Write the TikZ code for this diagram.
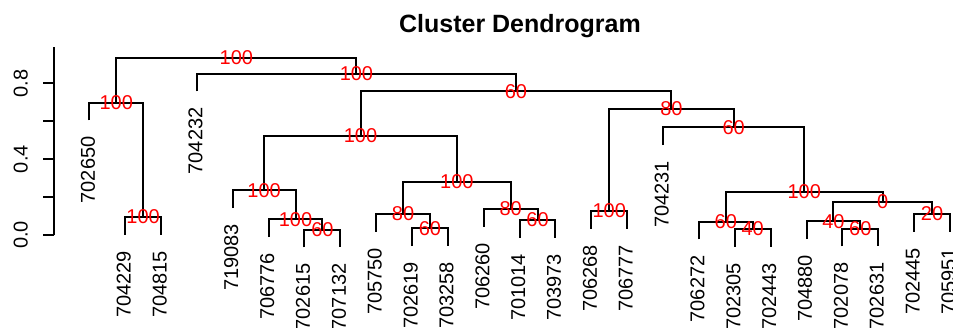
\documentclass[tikz,border=0pt]{standalone}
\usepackage{fontspec}
\setmainfont{Liberation Sans}
\begin{document}
\begin{tikzpicture}[x=1pt,y=-1pt,
  dline/.style={line width=2pt, line cap=butt, line join=miter},
  leaflab/.style={rotate=90, anchor=east, inner sep=0pt, font=\fontsize{20}{24}\selectfont},
  boot/.style={text=red, inner sep=0pt, font=\fontsize{20}{24}\selectfont},
  axlab/.style={rotate=90, inner sep=0pt, font=\fontsize{20}{24}\selectfont},
  titlelab/.style={anchor=base, inner sep=0pt, font=\fontsize{25}{30}\selectfont\bfseries}]
\useasboundingbox (0,0) rectangle (953,327);
\clip (0,0) rectangle (953,327);
% title
\node[titlelab] (title) at (520,32.3) {Cluster Dendrogram};
% axis
\coordinate (ax0) at (54.3,235);
\coordinate (axtop) at (54.3,46.7);
\draw[dline] (ax0) -- (axtop);
\foreach \v in {0,...,4}{
  \coordinate (tk\v) at (54.3,{235-37.9*\v});
  \coordinate (tke\v) at (42.7,{235-37.9*\v});
  \draw[dline] (tk\v) -- (tke\v);
}
\node[axlab] (y0) at (20.8,235) {0.0};
\node[axlab] (y4) at (20.8,159.2) {0.4};
\node[axlab] (y8) at (20.8,83.4) {0.8};
% leaves
\foreach \i/\lab/\py in {1/702650/102.7, 2/704229/217, 3/704815/217, 4/704232/73.7,
  5/719083/190.3, 6/706776/219.3, 7/702615/229.7, 8/707132/229.7, 9/705750/214,
  10/702619/228.3, 11/703258/228.3, 12/706260/209, 13/701014/220, 14/703973/220,
  15/706268/211, 16/706777/211, 17/704231/127.3, 18/706272/221.7, 19/702305/229,
  20/702443/229, 21/704880/221.3, 22/702078/228.7, 23/702631/228.7, 24/702445/214,
  25/705951/214}{
  \coordinate (l\i) at ({89.3+(\i-1)*35.86},{\py+17.7});
  \node[leaflab] (t\i) at ({89.3+(\i-1)*35.86-1.4},{\py+17.7+16}) {\lab};
}
% merge points
\coordinate (A) at (143.09,217);
\coordinate (B) at (116.20,102.7);
\coordinate (I) at (322.39,229.7);
\coordinate (H) at (295.50,219.3);
\coordinate (G) at (264.12,190.3);
\coordinate (L) at (429.97,228.3);
\coordinate (K) at (403.08,214);
\coordinate (N) at (537.55,220);
\coordinate (M) at (510.66,209);
\coordinate (J) at (456.87,181.7);
\coordinate (F) at (360.50,135.7);
\coordinate (O) at (609.27,211);
\coordinate (T) at (752.71,229);
\coordinate (S) at (725.82,221.7);
\coordinate (W) at (860.29,228.7);
\coordinate (V) at (833.40,221.3);
\coordinate (X) at (932.01,214);
\coordinate (U) at (882.71,201.7);
\coordinate (R) at (804.27,191.7);
\coordinate (Q) at (733.67,127.3);
\coordinate (P) at (671.47,108.7);
\coordinate (E) at (515.99,91.3);
\coordinate (D) at (356.44,73.7);
\coordinate (C) at (236.32,58);
% links
\draw[dline] (l2) |- (A) -| (l3);
\draw[dline] (l1) |- (B) -| (A);
\draw[dline] (l7) |- (I) -| (l8);
\draw[dline] (l6) |- (H) -| (I);
\draw[dline] (l5) |- (G) -| (H);
\draw[dline] (l10) |- (L) -| (l11);
\draw[dline] (l9) |- (K) -| (L);
\draw[dline] (l13) |- (N) -| (l14);
\draw[dline] (l12) |- (M) -| (N);
\draw[dline] (K) |- (J) -| (M);
\draw[dline] (G) |- (F) -| (J);
\draw[dline] (l15) |- (O) -| (l16);
\draw[dline] (l19) |- (T) -| (l20);
\draw[dline] (l18) |- (S) -| (T);
\draw[dline] (l22) |- (W) -| (l23);
\draw[dline] (l21) |- (V) -| (W);
\draw[dline] (l24) |- (X) -| (l25);
\draw[dline] (V) |- (U) -| (X);
\draw[dline] (S) |- (R) -| (U);
\draw[dline] (l17) |- (Q) -| (R);
\draw[dline] (O) |- (P) -| (Q);
\draw[dline] (F) |- (E) -| (P);
\draw[dline] (l4) |- (D) -| (E);
\draw[dline] (B) |- (C) -| (D);
% bootstrap values
\foreach \m/\val in {A/100, B/100, C/100, D/100, E/60, F/100, G/100, H/100, I/60,
  J/100, K/80, L/60, M/80, N/60, O/100, P/80, Q/60, R/100, S/60, T/40, U/0,
  V/40, W/60, X/20}{
  \node[boot] (b\m) at (\m) {\val};
}
\end{tikzpicture}
\end{document}
